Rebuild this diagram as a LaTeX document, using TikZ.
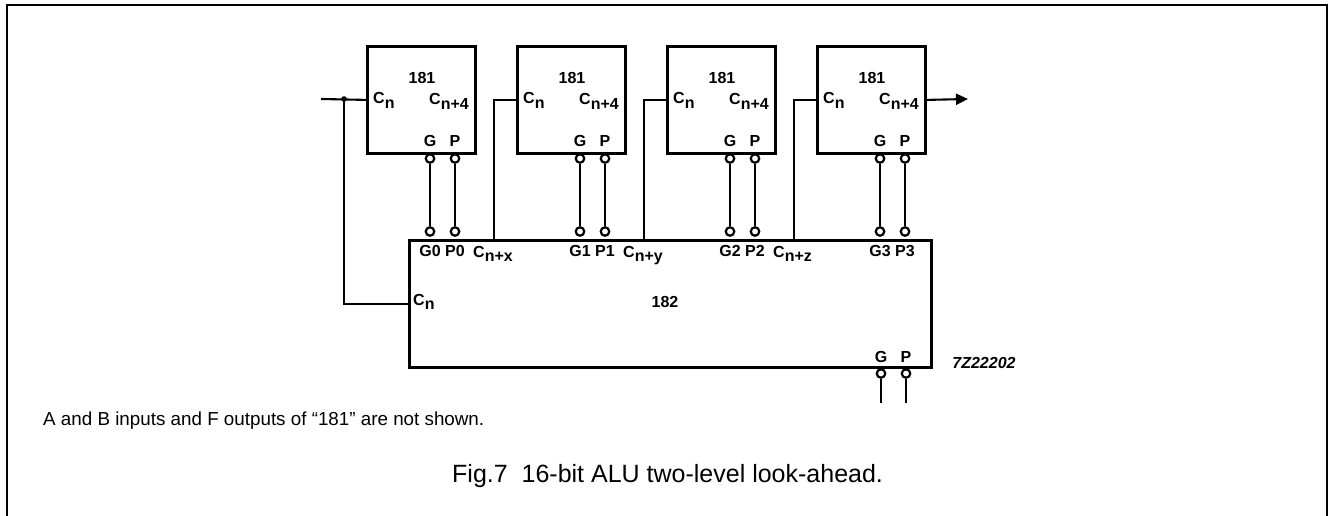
\documentclass[tikz,border=0pt]{standalone}
\usepackage{fontspec}
\setmainfont{Liberation Sans}
\usepackage{tikz}
\usetikzlibrary{arrows.meta, positioning}

% signal name with a lowered index, as on the chip pins
\newcommand{\sig}[2]{#1\raisebox{-0.3em}{#2}}

\tikzset{
    chip/.style={draw, line width=2.8pt, inner sep=0pt},
    wire/.style={line width=2.1pt},
    bubble/.style={circle, draw, line width=2.2pt, minimum size=8.5pt, inner sep=0pt},
    pin/.style={font=\bfseries\fontsize{16}{16}\selectfont, inner sep=0pt},
}

\begin{document}
\begin{tikzpicture}[x=1pt, y=-1pt]
    \useasboundingbox (0,0) rectangle (1328,516);

    % frame round the figure
    \draw[line width=1.8pt] (7,516) -- (7,5) -- (1327,5) -- (1327,516);

    % the look-ahead unit
    \node[chip, minimum width=522pt, minimum height=127pt, anchor=north west] (la) at (408,239) {};
    \node[pin] (laNum) at (665,302) {182};
    \node[pin, anchor=base west] (laCin) at (413,305) {\sig{C}{n}};

    % four 181 slices with their G and P lines
    \foreach \i in {0,1,2,3} {
        \pgfmathsetmacro{\xL}{366+150*\i}
        \node[chip, minimum width=108pt, minimum height=107pt, anchor=north west] (s\i) at (\xL,45) {};
        \node[pin] (s\i num) at (\xL+56,78) {181};
        \node[pin, anchor=base west] (s\i cin) at (\xL+7,104) {\sig{C}{n}};
        \node[pin, anchor=base east] (s\i cout) at (\xL+103,105) {\sig{C}{n+4}};
        \node[pin] (s\i g) at (\xL+64,141) {G};
        \node[pin] (s\i p) at (\xL+89,141) {P};
        \node[bubble] (gt\i) at (\xL+64,158.5) {};
        \node[bubble] (pt\i) at (\xL+89,158.5) {};
        \node[bubble] (gb\i) at (\xL+64,231.5) {};
        \node[bubble] (pb\i) at (\xL+89,231.5) {};
        \draw[wire] (gt\i) -- (gb\i);
        \draw[wire] (pt\i) -- (pb\i);
        \node[pin] (laG\i) at (\xL+64,251) {G\i};
        \node[pin] (laP\i) at (\xL+89,251) {P\i};
    }

    % carries from the 182 to the next slice
    \foreach \i/\c in {0/x,1/y,2/z} {
        \pgfmathsetmacro{\xL}{366+150*\i}
        \pgfmathtruncatemacro{\j}{\i+1}
        \coordinate (cc\i) at (\xL+128,239);
        \draw[wire] (cc\i) |- (s\j.west);
        \node[pin, anchor=base west] (laC\c) at (\xL+107,257) {\sig{C}{n+\c}};
    }

    % carry in, also to the 182
    \coordinate (cin) at (321,99);
    \coordinate (jn) at (344,99);
    \draw[wire] (cin) -- (s0.west);
    \draw[wire] (jn) |- (la.west);
    \fill (jn) circle (2.8pt);

    % carry out
    \coordinate (cout) at (968,99);
    \draw[wire, -{Triangle[length=12pt, width=11pt]}] (s3.east) -- (cout);

    % group G and P out of the 182
    \node[pin] (laGo) at (881,356.5) {G};
    \node[pin] (laPo) at (906,356.5) {P};
    \node[bubble] (go) at (881,373.5) {};
    \node[bubble] (po) at (906,373.5) {};
    \coordinate (goEnd) at (881,403);
    \coordinate (poEnd) at (906,403);
    \draw[wire] (go) -- (goEnd);
    \draw[wire] (po) -- (poEnd);

    \node[font=\bfseries\itshape\fontsize{16}{16}\selectfont] (code) at (984,363) {7Z22202};

    % notes
    \node[anchor=base west, inner sep=0pt, font=\fontsize{18.8}{18.8}\selectfont] (note) at (43,425)
        {A and B inputs and F outputs of “181” are not shown.};
    \node[anchor=base west, inner sep=0pt, font=\fontsize{25}{25}\selectfont] (caption) at (452,482)
        {Fig.7\ \ 16-bit ALU two-level look-ahead.};
\end{tikzpicture}
\end{document}
